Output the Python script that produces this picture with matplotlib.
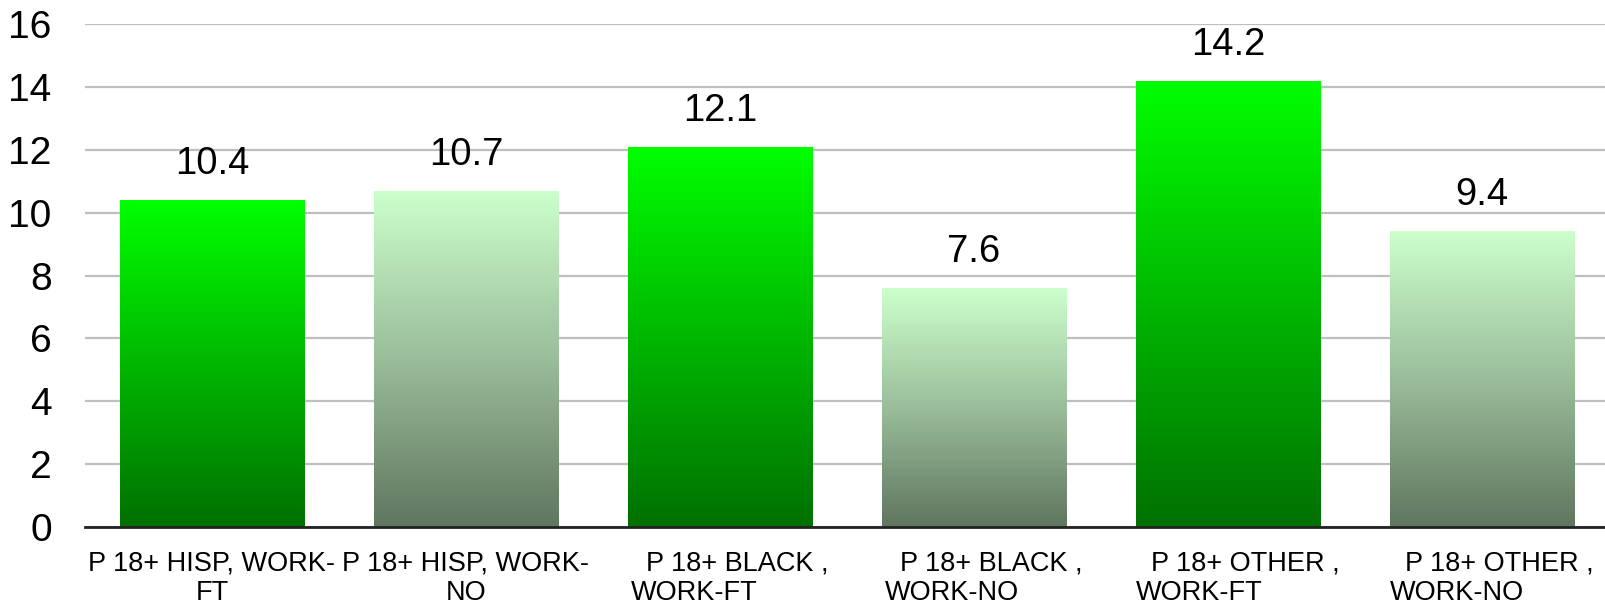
import matplotlib
matplotlib.use("Agg")
import matplotlib.pyplot as plt
import matplotlib.transforms as mtransforms
import numpy as np
from matplotlib.colors import LinearSegmentedColormap

categories = [
    "P 18+ HISP, WORK-\nFT",
    "P 18+ HISP, WORK-\nNO",
    "  P 18+ BLACK ,\nWORK-FT",
    "  P 18+ BLACK ,\nWORK-NO",
    "  P 18+ OTHER ,\nWORK-FT",
    "  P 18+ OTHER ,\nWORK-NO",
]
values = [10.4, 10.7, 12.1, 7.6, 14.2, 9.4]
value_labels = ["10.4", "10.7", "12.1", "7.6", "14.2", "9.4"]
bar_kind = ["ft", "no", "ft", "no", "ft", "no"]
yticks = [0, 2, 4, 6, 8, 10, 12, 14, 16]

plt.rcParams['font.family'] = ['Liberation Sans', 'DejaVu Sans']

cmaps = {
    "ft": LinearSegmentedColormap.from_list("ft", ["#007000", "#00FF00"]),
    "no": LinearSegmentedColormap.from_list("no", ["#5F765F", "#9ABD9A", "#CCFFCC"]),
}

fig = plt.figure(figsize=(16.06, 6.10), dpi=100)
ax = fig.add_axes([85 / 1606, 83 / 610, 1524 / 1606, 503 / 610])

x = np.arange(len(categories))
bars = ax.bar(x, values, width=0.725, color="none", zorder=2)

grad = np.linspace(0, 1, 256).reshape(-1, 1)
for b, kind in zip(bars, bar_kind):
    x0, y0 = b.get_x(), b.get_y()
    w, h = b.get_width(), b.get_height()
    im = ax.imshow(grad, extent=[x0, x0 + w, y0, y0 + h], origin="lower",
                   aspect="auto", cmap=cmaps[kind], zorder=2, interpolation="bilinear")
    im.set_clip_path(b)

for b, lab in zip(bars, value_labels):
    ax.annotate(lab, (b.get_x() + b.get_width() / 2, b.get_height()),
                xytext=(0, 13), textcoords="offset points",
                ha="center", va="bottom", fontsize=27.5, color="black")

ax.set_xlim(-0.5, len(categories) - 0.5)
ax.set_ylim(0, 16)
ax.set_yticks(yticks)
ax.set_yticklabels([str(t) for t in yticks], fontsize=28)
ax.tick_params(axis="y", length=0, pad=24)
ax.tick_params(axis="x", length=0, pad=17)
ax.set_xticks(x)
ax.set_xticklabels(categories, fontsize=19.5, multialignment="left", linespacing=1.15)
for i, t in enumerate(ax.get_xticklabels()):
    if i >= 2:
        t.set_transform(t.get_transform() + mtransforms.ScaledTranslation(10 / 100, 0, fig.dpi_scale_trans))
    else:
        t.set_multialignment("center")

ax.yaxis.grid(True, color="#BFBFBF", linewidth=1.6, zorder=0)
ax.set_axisbelow(True)
for s in ["left", "right", "top"]:
    ax.spines[s].set_visible(False)
ax.spines["bottom"].set_color("#222222")
ax.spines["bottom"].set_linewidth(2)
ax.spines["bottom"].set_zorder(3)

fig.savefig("out.png", dpi=100, facecolor="white")
